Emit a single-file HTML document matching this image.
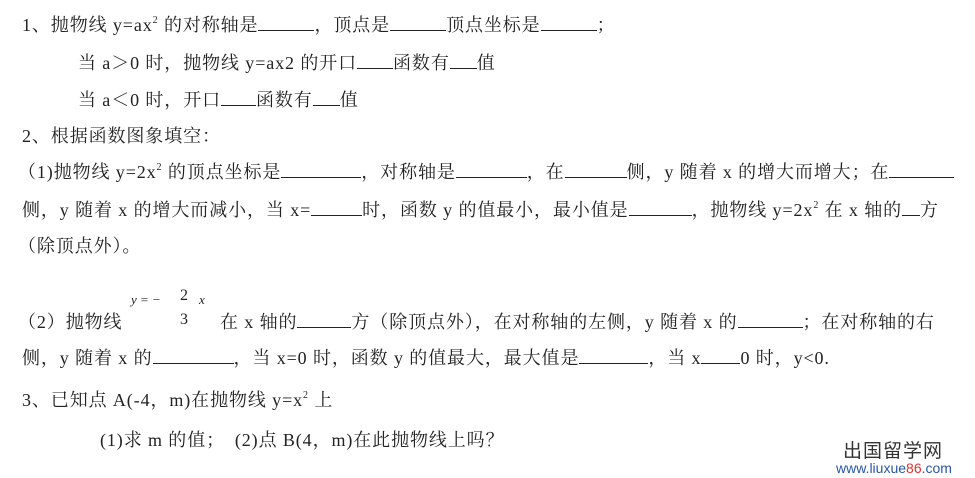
<!DOCTYPE html>
<html><head><meta charset="utf-8"><style>
body{margin:0;width:975px;height:478px;background:#fff;position:relative;overflow:hidden;font-family:"Liberation Serif","Noto Serif CJK SC",serif;font-size:18px;letter-spacing:0.9px;color:#222}
.l{position:absolute;white-space:nowrap;line-height:20px;height:20px}
.b{display:inline-block;border-bottom:1px solid #222;height:15px;vertical-align:baseline}
sup{font-size:10px;vertical-align:8px;line-height:0}
.wm{position:absolute;left:843px;top:440px;font-family:"Noto Sans CJK SC",sans-serif;font-size:19px;color:#333;letter-spacing:1px;line-height:20px}
.url{position:absolute;left:836px;top:461px;font-family:"Liberation Sans",sans-serif;font-size:14px;color:#2a56a8;line-height:14px;letter-spacing:0}
</style></head><body>
<div class="l" style="left:22px;top:15px">1、抛物线 y=ax<sup>2</sup> 的对称轴是<span class="b" style="width:56px"></span>，顶点是<span class="b" style="width:56px"></span>顶点坐标是<span class="b" style="width:56px"></span>；</div>
<div class="l" style="left:78px;top:53px">当 a＞0 时，抛物线 y=ax2 的开口<span class="b" style="width:36px"></span>函数有<span class="b" style="width:27px"></span>值</div>
<div class="l" style="left:78px;top:90px">当 a＜0 时，开口<span class="b" style="width:35px"></span>函数有<span class="b" style="width:27px"></span>值</div>
<div class="l" style="left:22px;top:126px">2、根据函数图象填空：</div>
<div class="l" style="left:18px;top:162px">（1)抛物线 y=2x<sup>2</sup> 的顶点坐标是<span class="b" style="width:80px"></span>，对称轴是<span class="b" style="width:71px"></span>，在<span class="b" style="width:62px"></span>侧，y 随着 x 的增大而增大；在<span class="b" style="width:65px"></span></div>
<div class="l" style="left:22px;top:200px">侧，y 随着 x 的增大而减小，当 x=<span class="b" style="width:51px"></span>时，函数 y 的值最小，最小值是<span class="b" style="width:63px"></span>，抛物线 y=2x<sup>2</sup> 在 x 轴的<span class="b" style="width:18px"></span>方</div>
<div class="l" style="left:18px;top:236px">（除顶点外）。</div>
<div class="l" style="left:18px;top:312px">（2）抛物线</div>
<div class="l" style="left:131px;top:290px;font-style:italic;font-size:13px;letter-spacing:0">y = −</div>
<div class="l" style="left:180px;top:286px;font-size:16px">2</div>
<div class="l" style="left:180px;top:310px;font-size:16px">3</div>
<div class="l" style="left:199px;top:290px;font-style:italic;font-size:13px">x</div>
<div class="l" style="left:220px;top:312px">在 x 轴的<span class="b" style="width:54px"></span>方（除顶点外），在对称轴的左侧，y 随着 x 的<span class="b" style="width:65px"></span>；在对称轴的右</div>
<div class="l" style="left:22px;top:348px">侧，y 随着 x 的<span class="b" style="width:81px"></span>，当 x=0 时，函数 y 的值最大，最大值是<span class="b" style="width:69px"></span>，当 x<span class="b" style="width:39px"></span>0 时，y&lt;0.</div>
<div class="l" style="left:22px;top:390px">3、已知点 A(-4，m)在抛物线 y=x<sup>2</sup> 上</div>
<div class="l" style="left:100px;top:430px">(1)求 m 的值；　(2)点 B(4，m)在此抛物线上吗？</div>
<div class="wm">出国留学网</div>
<div class="url">www.liuxue<span style="color:#d33">86</span>.com</div>
</body></html>
